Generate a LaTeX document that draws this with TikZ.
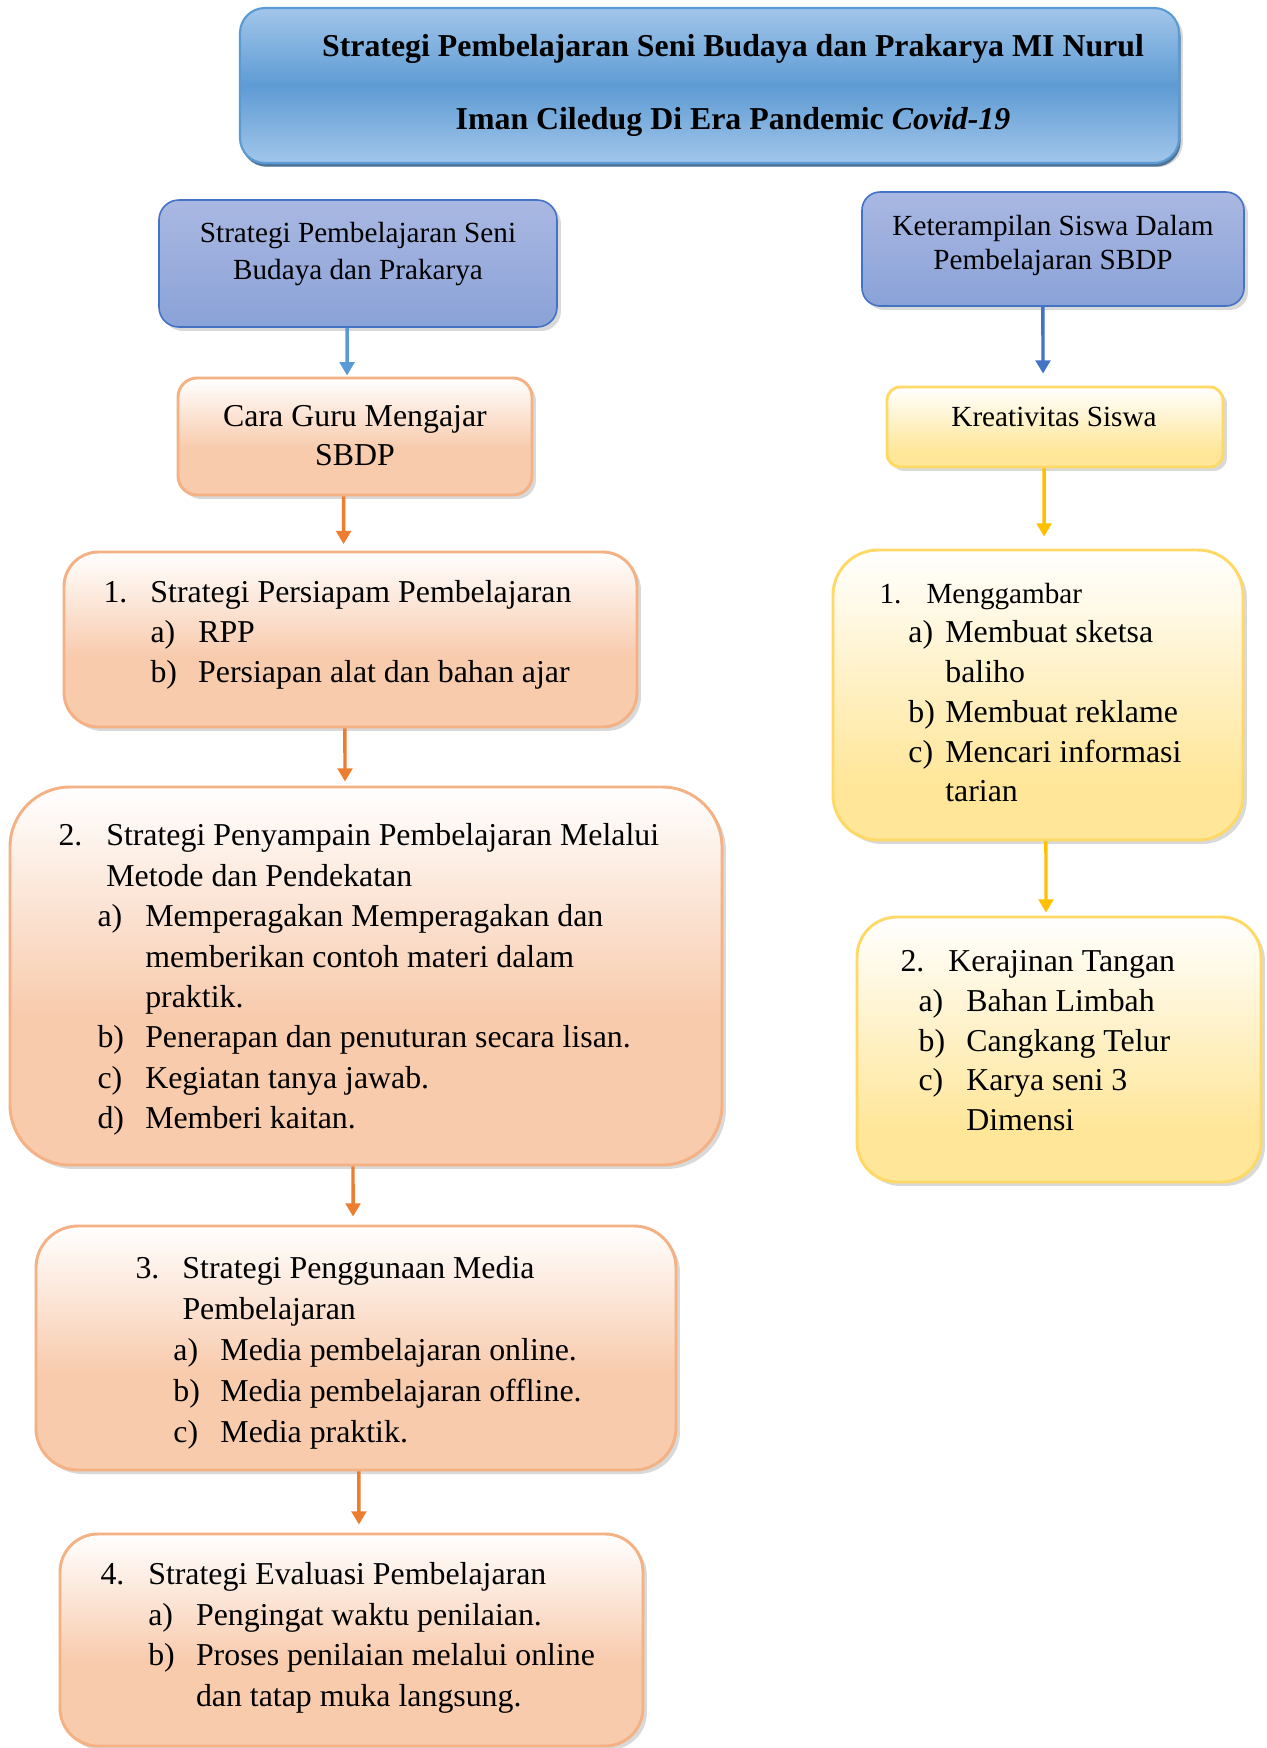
\documentclass[tikz,border=0pt]{standalone}
\usepackage{fontspec}
\setmainfont{Liberation Serif}
\usepackage{tikz}
\usetikzlibrary{arrows.meta,fit,shadows}

\definecolor{peachFill}{HTML}{F8CBAD}
\definecolor{peachLine}{HTML}{F4B183}
\definecolor{peachArrow}{HTML}{ED7D31}
\definecolor{goldFill}{HTML}{FFE699}
\definecolor{goldLine}{HTML}{FFD966}
\definecolor{goldArrow}{HTML}{FFC000}
\definecolor{lilacTop}{HTML}{AAB8E2}
\definecolor{lilacBot}{HTML}{8AA2D8}
\definecolor{lilacLine}{HTML}{4472C4}
\definecolor{skyTop}{HTML}{A2C6EA}
\definecolor{skyMid}{HTML}{5E9BD4}
\definecolor{skyLine}{HTML}{5B9BD5}
\definecolor{skyShadow}{HTML}{2E5C8A}

\pgfdeclareverticalshading{peachfade}{100bp}{color(0bp)=(peachFill); color(45bp)=(peachFill); color(75bp)=(white); color(100bp)=(white)}
\pgfdeclareverticalshading{goldfade}{100bp}{color(0bp)=(goldFill); color(35bp)=(goldFill); color(75bp)=(white); color(100bp)=(white)}

\newcommand{\lbl}[2][18pt]{\makebox[#1][l]{#2}}

\begin{document}
\begin{tikzpicture}[x=0.3768pt, y=-0.3768pt,
    card/.style={draw, inner sep=0pt, line width=1.1pt,
        drop shadow={shadow xshift=1.5pt, shadow yshift=-1.5pt, opacity=0.3}},
    peachbox/.style={card, draw=peachLine, shading=peachfade},
    goldbox/.style={card, draw=goldLine, shading=goldfade},
    lilacbox/.style={card, draw=lilacLine, line width=0.6pt, top color=lilacTop, bottom color=lilacBot},
    skybox/.style={card, draw=skyLine, line width=0.8pt, top color=skyTop, bottom color=skyTop, middle color=skyMid,
        drop shadow={shadow xshift=0.6pt, shadow yshift=-1.4pt, opacity=0.8, fill=skyShadow}},
    arr/.style={-{Triangle[width=5.5pt,length=5pt]}, line width=1.3pt},
    peacharr/.style={arr, draw=peachArrow, fill=peachArrow},
    goldarr/.style={arr, draw=goldArrow, fill=goldArrow},
    listtext/.style={anchor=north west, inner sep=0pt, align=left},
    headtext/.style={inner sep=0pt, align=center}]
    \useasboundingbox (0,0) rectangle (1266,1748);

    \node[skybox, rounded corners=9.4pt, fit={(240,8) (1179,163)}] (title) {};
    \node[lilacbox, rounded corners=7.5pt, fit={(159,200) (557,327)}] (strat) {};
    \node[lilacbox, rounded corners=6.8pt, fit={(862,192) (1244,306)}] (ketr) {};
    \node[peachbox, rounded corners=7.2pt, fit={(178,378) (532,495)}] (cara) {};
    \node[goldbox, rounded corners=5pt, fit={(887,387) (1223,467)}] (kreat) {};
    \node[peachbox, rounded corners=13pt, fit={(64,552) (637,727)}] (sone) {};
    \node[peachbox, rounded corners=22.6pt, fit={(10,787) (722,1165)}] (stwo) {};
    \node[peachbox, rounded corners=15.8pt, fit={(36,1226) (676,1470)}] (sthree) {};
    \node[peachbox, rounded corners=14.3pt, fit={(60,1534) (643,1746)}] (sfour) {};
    \node[goldbox, rounded corners=17pt, fit={(833,550) (1243,840)}] (eone) {};
    \node[goldbox, rounded corners=15pt, fit={(857,917) (1261,1182)}] (ftwo) {};

    \draw[arr, draw=skyLine, fill=skyLine, shorten >=0.4pt] ([xshift=-4.1pt]strat.south) -- ([xshift=-3pt]cara.north);
    \draw[peacharr, shorten >=2.4pt] ([xshift=-4.3pt]cara.south) -- ([xshift=-2.6pt]sone.north);
    \draw[peacharr, shorten >=1.5pt] ([xshift=-2.1pt]sone.south) -- ([xshift=-7.9pt]stwo.north);
    \draw[peacharr, shorten >=3pt] ([xshift=-4.9pt]stwo.south) -- ([xshift=-1.1pt]sthree.north);
    \draw[peacharr, shorten >=3pt] ([xshift=1.1pt]sthree.south) -- ([xshift=2.8pt]sfour.north);
    \draw[arr, draw=lilacLine, fill=lilacLine, shorten >=4.5pt] ([xshift=-3.8pt]ketr.south) -- ([xshift=-4.5pt]kreat.north);
    \draw[goldarr, shorten >=4.5pt] ([xshift=-4.1pt]kreat.south) -- ([xshift=2.3pt]eone.north);
    \draw[goldarr, shorten >=1.1pt] ([xshift=3pt]eone.south) -- ([xshift=-4.9pt]ftwo.north);

    \node[headtext, font=\bfseries\fontsize{12}{27.5}\selectfont] (titletxt) at (733,85.5)
        {Strategi Pembelajaran Seni Budaya dan Prakarya MI Nurul\\Iman Ciledug Di Era Pandemic \textit{Covid-19}};
    \node[headtext, font=\fontsize{11}{14}\selectfont] (strattxt) at (358,254) {Strategi Pembelajaran Seni\\Budaya dan Prakarya};
    \node[headtext, font=\fontsize{11}{12.8}\selectfont] (ketrtxt) at (1053,245) {Keterampilan Siswa Dalam\\Pembelajaran SBDP};
    \node[headtext, font=\fontsize{12}{14.7}\selectfont] (caratxt) at (355,435.5) {Cara Guru Mengajar\\SBDP};
    \node[headtext, font=\fontsize{11}{13}\selectfont] (kreattxt) at (1054,417) {Kreativitas Siswa};

    \node[listtext, font=\fontsize{12}{15.07}\selectfont] (sonetxt) at (103,574.3)
        {\strut\lbl[17.7pt]{1.}Strategi Persiapam Pembelajaran\\
         \hspace*{17.7pt}\lbl{a)}RPP\\
         \hspace*{17.7pt}\lbl{b)}Persiapan alat dan bahan ajar};
    \node[listtext, font=\fontsize{12}{15.22}\selectfont] (stwotxt) at (58,817)
        {\strut\lbl{2.}Strategi Penyampain Pembelajaran Melalui\\
         \hspace*{18pt}Metode dan Pendekatan\\
         \hspace*{14.7pt}\lbl{a)}Memperagakan Memperagakan dan\\
         \hspace*{32.7pt}memberikan contoh materi dalam\\
         \hspace*{32.7pt}praktik.\\
         \hspace*{14.7pt}\lbl{b)}Penerapan dan penuturan secara lisan.\\
         \hspace*{14.7pt}\lbl{c)}Kegiatan tanya jawab.\\
         \hspace*{14.7pt}\lbl{d)}Memberi kaitan.};
    \node[listtext, font=\fontsize{12}{15.45}\selectfont] (sthreetxt) at (135,1249)
        {\strut\lbl[17.7pt]{3.}Strategi Penggunaan Media\\
         \hspace*{17.7pt}Pembelajaran\\
         \hspace*{14.3pt}\lbl[17.7pt]{a)}Media pembelajaran online.\\
         \hspace*{14.3pt}\lbl[17.7pt]{b)}Media pembelajaran offline.\\
         \hspace*{14.3pt}\lbl[17.7pt]{c)}Media praktik.};
    \node[listtext, font=\fontsize{12}{15.26}\selectfont] (sfourtxt) at (100,1556)
        {\strut\lbl{4.}Strategi Evaluasi Pembelajaran\\
         \hspace*{18pt}\lbl{a)}Pengingat waktu penilaian.\\
         \hspace*{18pt}\lbl{b)}Proses penilaian melalui online\\
         \hspace*{36pt}dan tatap muka langsung.};
    \node[listtext, font=\fontsize{12}{14.98}\selectfont] (eonetxt) at (879,574.7)
        {\strut{\fontsize{11}{14.98}\selectfont\lbl[17.7pt]{1.}Menggambar}\\
         \hspace*{10.9pt}\lbl[13.9pt]{a)}Membuat sketsa\\
         \hspace*{24.8pt}baliho\\
         \hspace*{10.9pt}\lbl[13.9pt]{b)}Membuat reklame\\
         \hspace*{10.9pt}\lbl[13.9pt]{c)}Mencari informasi\\
         \hspace*{24.8pt}tarian};
    \node[listtext, font=\fontsize{12}{14.92}\selectfont] (ftwotxt) at (900,943.6)
        {\strut\lbl{2.}Kerajinan Tangan\\
         \hspace*{6.8pt}\lbl{a)}Bahan Limbah\\
         \hspace*{6.8pt}\lbl{b)}Cangkang Telur\\
         \hspace*{6.8pt}\lbl{c)}Karya seni 3\\
         \hspace*{24.8pt}Dimensi};
\end{tikzpicture}
\end{document}
